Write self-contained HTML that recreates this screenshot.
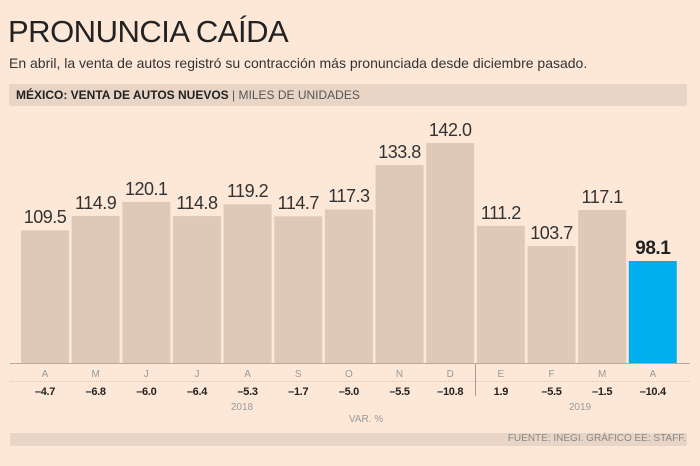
<!DOCTYPE html>
<html><head><style>
body{margin:0;width:700px;height:466px;background:#fde8d8;font-family:"Liberation Sans",sans-serif;position:relative;overflow:hidden}
.a{position:absolute;white-space:nowrap}
</style></head><body>
<div class="a" style="left:8px;top:14px;font-size:31px;color:#222;letter-spacing:-0.5px">PRONUNCIA CAÍDA</div>
<div class="a" style="left:9px;top:55px;font-size:14px;color:#333">En abril, la venta de autos registró su contracción más pronunciada desde diciembre pasado.</div>
<div class="a" style="left:9px;top:84px;width:678px;height:22px;background:#e8d5c5;border-radius:2px"></div>
<div class="a" style="left:16px;top:88px;font-size:12px;color:#222"><b>MÉXICO: VENTA DE AUTOS NUEVOS</b> <span style="color:#555">| MILES DE UNIDADES</span></div>
<svg class="a" style="left:0;top:0" width="700" height="466" xmlns="http://www.w3.org/2000/svg">
<g fill="#dec9b9">
<rect x="21" y="230.4" width="48" height="132.6"/>
<rect x="71.65" y="215.9" width="48" height="147.1"/>
<rect x="122.3" y="201.9" width="48" height="161.1"/>
<rect x="172.95" y="216.1" width="48" height="146.9"/>
<rect x="223.6" y="204.3" width="48" height="158.7"/>
<rect x="274.25" y="216.4" width="48" height="146.6"/>
<rect x="324.9" y="209.4" width="48" height="153.6"/>
<rect x="375.55" y="165" width="48" height="198"/>
<rect x="426.2" y="143" width="48" height="220"/>
<rect x="476.85" y="225.8" width="48" height="137.2"/>
<rect x="527.5" y="246" width="48" height="117"/>
<rect x="578.15" y="209.9" width="48" height="153.1"/>
</g>
<rect x="628.8" y="261" width="48" height="102" fill="#00adee"/>
<line x1="10" y1="363.5" x2="690" y2="363.5" stroke="#b8a89a"/>
<line x1="475.5" y1="364" x2="475.5" y2="396" stroke="#a99"/>
<line x1="10" y1="381.5" x2="690" y2="381.5" stroke="#d8c6b6" stroke-dasharray="1,1"/>
<g font-family="Liberation Sans, sans-serif" text-anchor="middle" font-size="18" fill="#333" letter-spacing="-0.5">
<text x="45" y="223">109.5</text>
<text x="95.65" y="209">114.9</text>
<text x="146.3" y="195">120.1</text>
<text x="196.95" y="209">114.8</text>
<text x="247.6" y="197">119.2</text>
<text x="298.25" y="209">114.7</text>
<text x="348.9" y="202">117.3</text>
<text x="399.55" y="158">133.8</text>
<text x="450.2" y="136">142.0</text>
<text x="500.85" y="219">111.2</text>
<text x="551.5" y="239">103.7</text>
<text x="602.15" y="203">117.1</text>
<text x="652.8" y="254" font-size="19" font-weight="bold" fill="#222">98.1</text>
</g>
<g font-family="Liberation Sans, sans-serif" text-anchor="middle" font-size="10" fill="#999">
<text x="45" y="377">A</text><text x="95.65" y="377">M</text><text x="146.3" y="377">J</text><text x="196.95" y="377">J</text><text x="247.6" y="377">A</text><text x="298.25" y="377">S</text><text x="348.9" y="377">O</text><text x="399.55" y="377">N</text><text x="450.2" y="377">D</text><text x="500.85" y="377">E</text><text x="551.5" y="377">F</text><text x="602.15" y="377">M</text><text x="652.8" y="377">A</text>
<text x="242" y="410">2018</text><text x="580" y="410">2019</text><text x="366" y="422">VAR. %</text>
</g>
<g font-family="Liberation Sans, sans-serif" text-anchor="middle" font-size="11" font-weight="bold" fill="#222" letter-spacing="-0.3">
<text x="45" y="395">–4.7</text><text x="95.65" y="395">–6.8</text><text x="146.3" y="395">–6.0</text><text x="196.95" y="395">–6.4</text><text x="247.6" y="395">–5.3</text><text x="298.25" y="395">–1.7</text><text x="348.9" y="395">–5.0</text><text x="399.55" y="395">–5.5</text><text x="450.2" y="395">–10.8</text><text x="500.85" y="395">1.9</text><text x="551.5" y="395">–5.5</text><text x="602.15" y="395">–1.5</text><text x="652.8" y="395">–10.4</text>
</g>
</svg>
<div class="a" style="left:10px;top:433px;width:677px;height:13px;background:#e8d5c5"></div>
<div class="a" style="right:14px;top:433px;font-size:10px;color:#888">FUENTE: INEGI. GRÁFICO EE: STAFF.</div>
</body></html>
